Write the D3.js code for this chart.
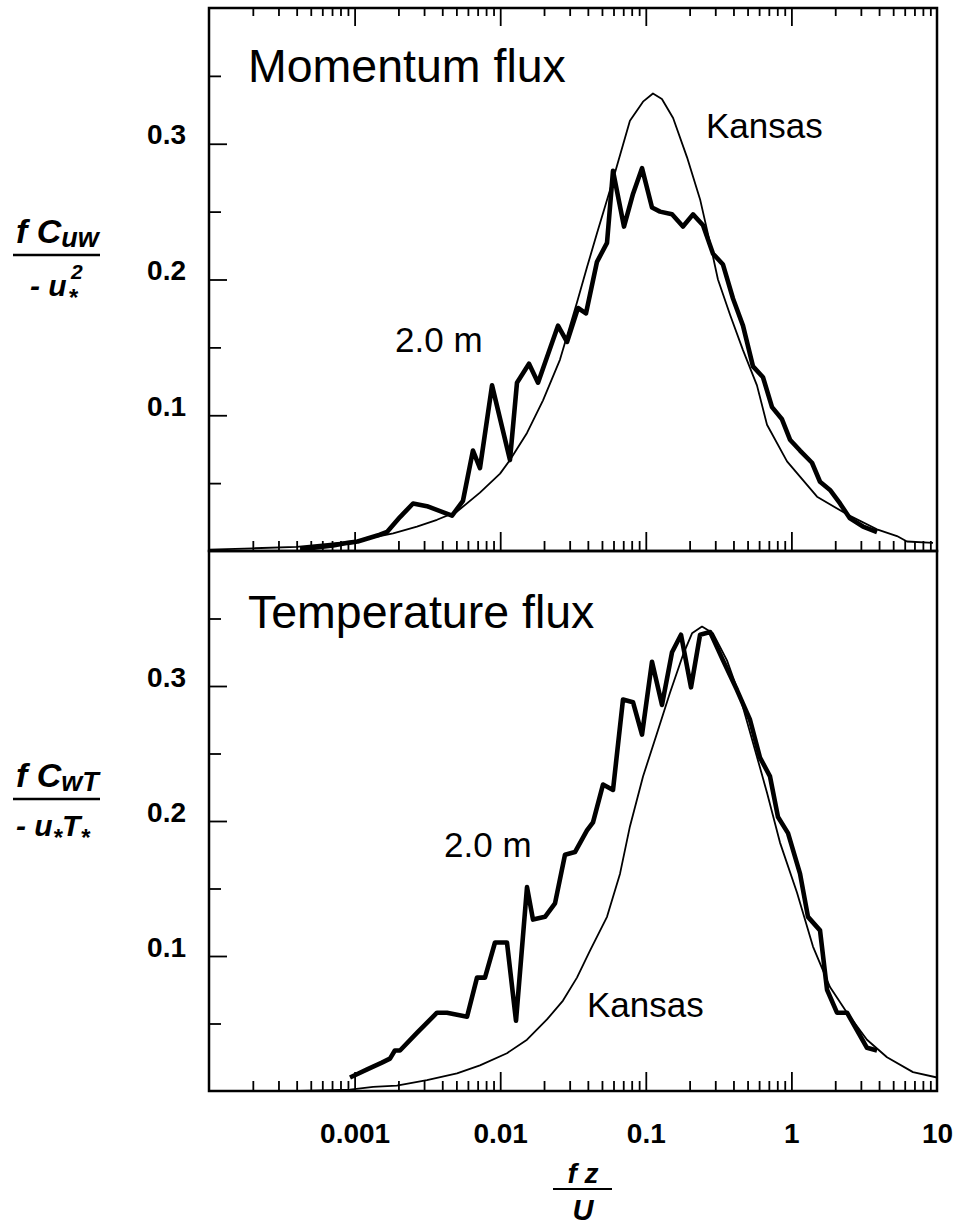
<!DOCTYPE html>
<html>
<head>
<meta charset="utf-8">
<script src="https://cdn.jsdelivr.net/npm/d3@7"></script>
<style>
  body { margin: 0; background: #fff; }
  svg { display: block; }
  text { font-family: "Liberation Sans", Arial, sans-serif; fill: #000; }
</style>
</head>
<body>
<script>
// ---- data ----
// normalised frequency f z / U
const majorFzTicks = [0.0001, 0.001, 0.01, 0.1, 1, 10];
const fzTickLabels = ['0.001', '0.01', '0.1', '1', '10'];
const yMajorTicks = [0.1, 0.2, 0.3];
const yMinorTicks = [0.05, 0.15, 0.25, 0.35];

// momentum flux cospectrum, f Cuw / -u*^2
const momentumKansas = [
  [0.0001, 0.001], [0.0002, 0.002], [0.0004, 0.003], [0.00098, 0.007],
  [0.00184, 0.013], [0.00268, 0.018], [0.00368, 0.023], [0.00505, 0.029],
  [0.00726, 0.043], [0.00998, 0.057], [0.01167, 0.067], [0.01528, 0.087],
  [0.01968, 0.111], [0.02575, 0.141], [0.03367, 0.183], [0.03945, 0.209],
  [0.04621, 0.234], [0.05678, 0.266], [0.0778, 0.317], [0.0957, 0.331],
  [0.112, 0.337], [0.129, 0.333], [0.154, 0.319], [0.192, 0.290],
  [0.236, 0.259], [0.276, 0.227], [0.313, 0.200], [0.379, 0.174],
  [0.465, 0.148], [0.580, 0.122], [0.680, 0.093], [0.933, 0.066],
  [1.50, 0.040], [2.41, 0.027], [3.87, 0.016], [5.31, 0.011],
  [6.22, 0.007], [9.39, 0.006]
];
const momentum2m = [
  [0.000422, 0.002], [0.000494, 0.002], [0.000711, 0.004], [0.0009, 0.006],
  [0.00105, 0.007], [0.00149, 0.012], [0.00167, 0.014], [0.00205, 0.025],
  [0.00252, 0.035], [0.00314, 0.033], [0.00467, 0.026], [0.00555, 0.037],
  [0.0065, 0.074], [0.00726, 0.061], [0.00879, 0.122], [0.01167, 0.067],
  [0.01304, 0.124], [0.01577, 0.138], [0.01819, 0.124], [0.02494, 0.166],
  [0.02877, 0.154], [0.03422, 0.179], [0.03882, 0.175], [0.04621, 0.213],
  [0.05415, 0.227], [0.05953, 0.280], [0.07083, 0.239], [0.08166, 0.263],
  [0.09418, 0.282], [0.1103, 0.253], [0.1252, 0.250], [0.1514, 0.248],
  [0.18, 0.239], [0.211, 0.248], [0.2471, 0.240], [0.2895, 0.219],
  [0.339, 0.211], [0.397, 0.186], [0.465, 0.166], [0.5447, 0.136],
  [0.638, 0.128], [0.736, 0.106], [0.862, 0.097], [0.978, 0.082],
  [1.146, 0.074], [1.385, 0.065], [1.572, 0.051], [1.841, 0.045],
  [2.157, 0.035], [2.526, 0.024], [3.103, 0.018], [3.873, 0.014]
];

// temperature flux cospectrum, f CwT / -u*T*
const temperatureKansas = [
  [0.000422, 0.000], [0.00093, 0.001], [0.00134, 0.003], [0.00195, 0.004],
  [0.00314, 0.008], [0.00505, 0.013], [0.00726, 0.019], [0.01113, 0.028],
  [0.01528, 0.038], [0.02096, 0.053], [0.027, 0.067], [0.03367, 0.084],
  [0.04138, 0.104], [0.05415, 0.129], [0.06653, 0.161], [0.0778, 0.196],
  [0.0957, 0.233], [0.1194, 0.265], [0.1466, 0.295], [0.18, 0.323],
  [0.2077, 0.339], [0.2432, 0.344], [0.2895, 0.339], [0.361, 0.319],
  [0.4436, 0.292], [0.5447, 0.258], [0.68, 0.221], [0.835, 0.184],
  [1.092, 0.147], [1.407, 0.107], [1.841, 0.077], [2.41, 0.058],
  [3.304, 0.038], [4.536, 0.025], [6.84, 0.014], [10, 0.010]
];
const temperature2m = [
  [0.00093, 0.010], [0.00122, 0.016], [0.00154, 0.021], [0.00175, 0.024],
  [0.00189, 0.030], [0.00205, 0.030], [0.00268, 0.043], [0.00368, 0.058],
  [0.00431, 0.058], [0.00592, 0.055], [0.00693, 0.084], [0.00786, 0.084],
  [0.00921, 0.110], [0.01113, 0.110], [0.01284, 0.052], [0.01528, 0.151],
  [0.0168, 0.127], [0.02031, 0.129], [0.02379, 0.139], [0.02786, 0.175],
  [0.03263, 0.177], [0.03945, 0.193], [0.04339, 0.199], [0.05082, 0.227],
  [0.05953, 0.223], [0.06973, 0.290], [0.08166, 0.288], [0.09418, 0.264],
  [0.1103, 0.318], [0.1292, 0.286], [0.1514, 0.325], [0.1745, 0.338],
  [0.2044, 0.299], [0.236, 0.338], [0.2765, 0.340], [0.339, 0.319],
  [0.423, 0.297], [0.5196, 0.275], [0.6085, 0.247], [0.7129, 0.233],
  [0.809, 0.203], [0.9478, 0.191], [1.146, 0.161], [1.30, 0.129],
  [1.572, 0.119], [1.757, 0.075], [2.056, 0.058], [2.41, 0.058],
  [2.824, 0.045], [3.304, 0.032], [3.873, 0.030]
];

// ---- layout ----
const W = 955, H = 1228;
const left = 209, right = 937;
const panels = [
  { top: 8, bottom: 551, title: 'Momentum flux', kansas: momentumKansas, site: momentum2m,
    titleY: 82, kansasLabel: [706, 138], siteLabel: [395, 352], topTicks: true },
  { top: 551, bottom: 1091, title: 'Temperature flux', kansas: temperatureKansas, site: temperature2m,
    titleY: 628, kansasLabel: [587, 1017], siteLabel: [444, 857], topTicks: false }
];

const svg = d3.select('body').append('svg')
  .attr('width', W)
  .attr('height', H);

svg.append('rect').attr('width', W).attr('height', H).attr('fill', '#fff');

const x = d3.scaleLog().domain([0.0001, 10]).range([left, right]);

// minor ticks 2..9 of each decade
const minorFz = [];
for (let d = -4; d < 1; d++) {
  for (let k = 2; k <= 9; k++) minorFz.push(k * Math.pow(10, d));
}

function styleAxis(g) {
  g.select('.domain').remove();
  g.selectAll('.tick line').attr('stroke', '#000').attr('stroke-width', 1.8);
}

panels.forEach((p, i) => {
  const y = d3.scaleLinear().domain([0, 0.4]).range([p.bottom, p.top]);

  // bottom x ticks pointing up
  svg.append('g').attr('transform', `translate(0,${p.bottom})`)
    .call(d3.axisTop(x).tickValues(minorFz).tickSize(10).tickFormat(''))
    .call(styleAxis);
  svg.append('g').attr('transform', `translate(0,${p.bottom})`)
    .call(d3.axisTop(x).tickValues(majorFzTicks.slice(1, 5)).tickSize(19).tickFormat(''))
    .call(styleAxis);

  if (p.topTicks) {
    svg.append('g').attr('transform', `translate(0,${p.top})`)
      .call(d3.axisBottom(x).tickValues(minorFz).tickSize(8).tickFormat(''))
      .call(styleAxis);
    svg.append('g').attr('transform', `translate(0,${p.top})`)
      .call(d3.axisBottom(x).tickValues(majorFzTicks.slice(1, 5)).tickSize(18).tickFormat(''))
      .call(styleAxis);
  }

  // y ticks pointing right
  svg.append('g').attr('transform', `translate(${left},0)`)
    .call(d3.axisRight(y).tickValues(yMinorTicks).tickSize(12).tickFormat(''))
    .call(styleAxis);
  svg.append('g').attr('transform', `translate(${left},0)`)
    .call(d3.axisRight(y).tickValues(yMajorTicks).tickSize(18).tickFormat(''))
    .call(styleAxis);

  // y tick labels
  const yl = svg.append('g').attr('transform', `translate(${left},0)`)
    .call(d3.axisLeft(y).tickValues(yMajorTicks).tickSize(0).tickPadding(23).tickFormat(d3.format('.1f')));
  yl.select('.domain').remove();
  yl.selectAll('text')
    .attr('dy', 0)
    .style('font-family', '"Liberation Sans", Arial, sans-serif')
    .style('font-size', '28px')
    .style('font-weight', 'bold');

  // frame
  svg.append('rect')
    .attr('x', left).attr('y', p.top)
    .attr('width', right - left).attr('height', p.bottom - p.top)
    .attr('fill', 'none').attr('stroke', '#000').attr('stroke-width', 2.5);

  const line = d3.line().x(d => x(d[0])).y(d => y(d[1]));

  svg.append('path').datum(p.kansas)
    .attr('d', line)
    .attr('fill', 'none').attr('stroke', '#000').attr('stroke-width', 1.8)
    .attr('stroke-linejoin', 'round');

  svg.append('path').datum(p.site)
    .attr('d', line)
    .attr('fill', 'none').attr('stroke', '#000').attr('stroke-width', 4.6)
    .attr('stroke-linejoin', 'round');

  svg.append('text').attr('x', 248).attr('y', p.titleY)
    .style('font-size', '46.5px').text(p.title);
  svg.append('text').attr('x', p.kansasLabel[0]).attr('y', p.kansasLabel[1])
    .style('font-size', '35px').text('Kansas');
  svg.append('text').attr('x', p.siteLabel[0]).attr('y', p.siteLabel[1])
    .style('font-size', '35px').text('2.0 m');
});

// x tick labels
const xl = svg.append('g').attr('transform', `translate(0,${panels[1].bottom})`)
  .call(d3.axisBottom(x).tickValues(majorFzTicks.slice(1)).tickSize(0).tickPadding(52)
    .tickFormat((d, i) => fzTickLabels[i]));
xl.select('.domain').remove();
xl.selectAll('text')
  .attr('dy', 0)
  .style('font-family', '"Liberation Sans", Arial, sans-serif')
  .style('font-size', '28px')
  .style('font-weight', 'bold');

// ---- axis titles (fractions) ----
const bi = t => t.style('font-weight', 'bold').style('font-style', 'italic');

// x: f z / U
bi(svg.append('text').attr('x', 583).attr('y', 1183).attr('text-anchor', 'middle')
  .style('font-size', '28px').text('f z'));
svg.append('line').attr('x1', 553).attr('x2', 612).attr('y1', 1189).attr('y2', 1189)
  .attr('stroke', '#000').attr('stroke-width', 2.2);
bi(svg.append('text').attr('x', 583).attr('y', 1220).attr('text-anchor', 'middle')
  .style('font-size', '29px').text('U'));

// top y: f Cuw / - u*^2
let t = bi(svg.append('text').attr('x', 16).attr('y', 243).style('font-size', '34px'));
t.append('tspan').text('f C');
t.append('tspan').attr('dy', 4).style('font-size', '27px').text('uw');
svg.append('line').attr('x1', 13).attr('x2', 100).attr('y1', 255).attr('y2', 255)
  .attr('stroke', '#000').attr('stroke-width', 2.5);
t = bi(svg.append('text').attr('x', 30).attr('y', 296).style('font-size', '30px'));
t.append('tspan').text('- u');
t.append('tspan').attr('x', 68).attr('dy', 10).style('font-size', '24px').text('*');
t.append('tspan').attr('x', 71).attr('dy', -27).style('font-size', '21px').text('2');

// bottom y: f CwT / - u*T*
t = bi(svg.append('text').attr('x', 16).attr('y', 787).style('font-size', '34px'));
t.append('tspan').text('f C');
t.append('tspan').attr('dy', 4).style('font-size', '27px').text('wT');
svg.append('line').attr('x1', 13).attr('x2', 100).attr('y1', 799).attr('y2', 799)
  .attr('stroke', '#000').attr('stroke-width', 2.5);
t = bi(svg.append('text').attr('x', 16).attr('y', 836).style('font-size', '30px'));
t.append('tspan').text('- u');
t.append('tspan').attr('dy', 10).style('font-size', '24px').text('*');
t.append('tspan').attr('dy', -10).text('T');
t.append('tspan').attr('dy', 10).style('font-size', '24px').text('*');
</script>
</body>
</html>
